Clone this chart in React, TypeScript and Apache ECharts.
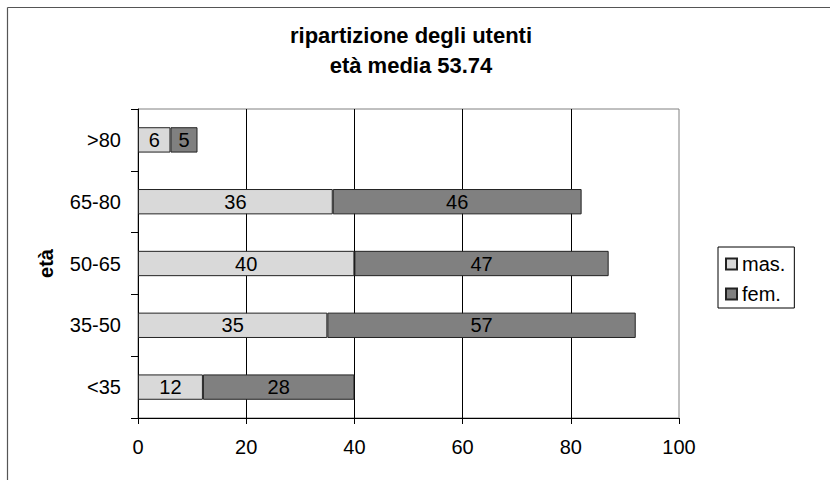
import React, { useEffect, useRef } from "react";
import * as echarts from "echarts";

const categories = ["<35", "35-50", "50-65", "65-80", ">80"];
const masValues = [12, 35, 40, 36, 6];
const femValues = [28, 57, 47, 46, 5];
const xTicks = { min: 0, max: 100, interval: 20 };
const titleText = "ripartizione degli utenti\netà media 53.74";
const yAxisName = "età";
const seriesNames = ["mas.", "fem."];

const FONT = "'Liberation Sans', Arial, sans-serif";

export default function App() {
  const ref = useRef<HTMLDivElement>(null);
  useEffect(() => {
    if (!ref.current) return;
    const chart = echarts.init(ref.current, null, { renderer: "svg" });
    const labelStyle = {
      show: true,
      position: "inside" as const,
      color: "#000",
      fontSize: 20,
      fontFamily: FONT,
    };
    chart.setOption({
      animation: false,
      backgroundColor: "#fff",
      textStyle: { fontFamily: FONT },
      title: {
        text: titleText,
        left: 406,
        top: 15,
        textAlign: "center",
        textStyle: {
          fontSize: 22,
          fontWeight: "bold",
          color: "#000",
          fontFamily: FONT,
          lineHeight: 30,
        },
      },
      legend: {
        orient: "vertical",
        left: 718,
        top: 247,
        padding: [7, 9, 4, 7],
        itemGap: 10,
        itemWidth: 11,
        itemHeight: 11,
        borderColor: "#000",
        borderWidth: 1,
        icon: "rect",
        textStyle: { fontSize: 20, color: "#000", fontFamily: FONT },
        data: seriesNames,
      },
      grid: {
        left: 138,
        right: 151,
        top: 109,
        bottom: 62,
        show: true,
        borderColor: "#808080",
        borderWidth: 1,
        backgroundColor: "transparent",
      },
      xAxis: {
        type: "value",
        min: xTicks.min,
        max: xTicks.max,
        interval: xTicks.interval,
        axisLine: { show: true, lineStyle: { color: "#000", width: 1 } },
        axisTick: { show: true, length: 6, lineStyle: { color: "#000" } },
        axisLabel: { fontSize: 20, color: "#000", margin: 19, fontFamily: FONT },
        splitLine: { show: true, showMaxLine: false, lineStyle: { color: "#000", width: 1 } },
      },
      yAxis: {
        type: "category",
        data: categories,
        name: yAxisName,
        nameLocation: "middle",
        nameRotate: 90,
        nameGap: 82,
        nameTextStyle: { fontSize: 20, fontWeight: "bold", color: "#000", fontFamily: FONT },
        axisLine: { show: true, lineStyle: { color: "#000", width: 1 } },
        axisTick: { show: true, length: 7, lineStyle: { color: "#000" } },
        axisLabel: { fontSize: 20, color: "#000", margin: 17, fontFamily: FONT },
        splitLine: { show: false },
      },
      series: [
        {
          name: seriesNames[0],
          type: "bar",
          stack: "total",
          barWidth: "41%",
          data: masValues,
          itemStyle: { color: "#d9d9d9", borderColor: "#222", borderWidth: 1 },
          label: labelStyle,
        },
        {
          name: seriesNames[1],
          type: "bar",
          stack: "total",
          barWidth: "41%",
          data: femValues,
          itemStyle: { color: "#808080", borderColor: "#222", borderWidth: 1 },
          label: labelStyle,
        },
      ],
      graphic: [
        {
          type: "line",
          shape: { x1: 7.5, y1: 7.5, x2: 830, y2: 7.5 },
          style: { stroke: "#555", lineWidth: 1.2 },
        },
        {
          type: "line",
          shape: { x1: 7.5, y1: 7.5, x2: 7.5, y2: 480 },
          style: { stroke: "#555", lineWidth: 1.2 },
        },
      ],
    });
    return () => chart.dispose();
  }, []);
  return (
    <div
      ref={ref}
      style={{ position: "absolute", left: 0, top: 0, width: 830, height: 480 }}
    />
  );
}
